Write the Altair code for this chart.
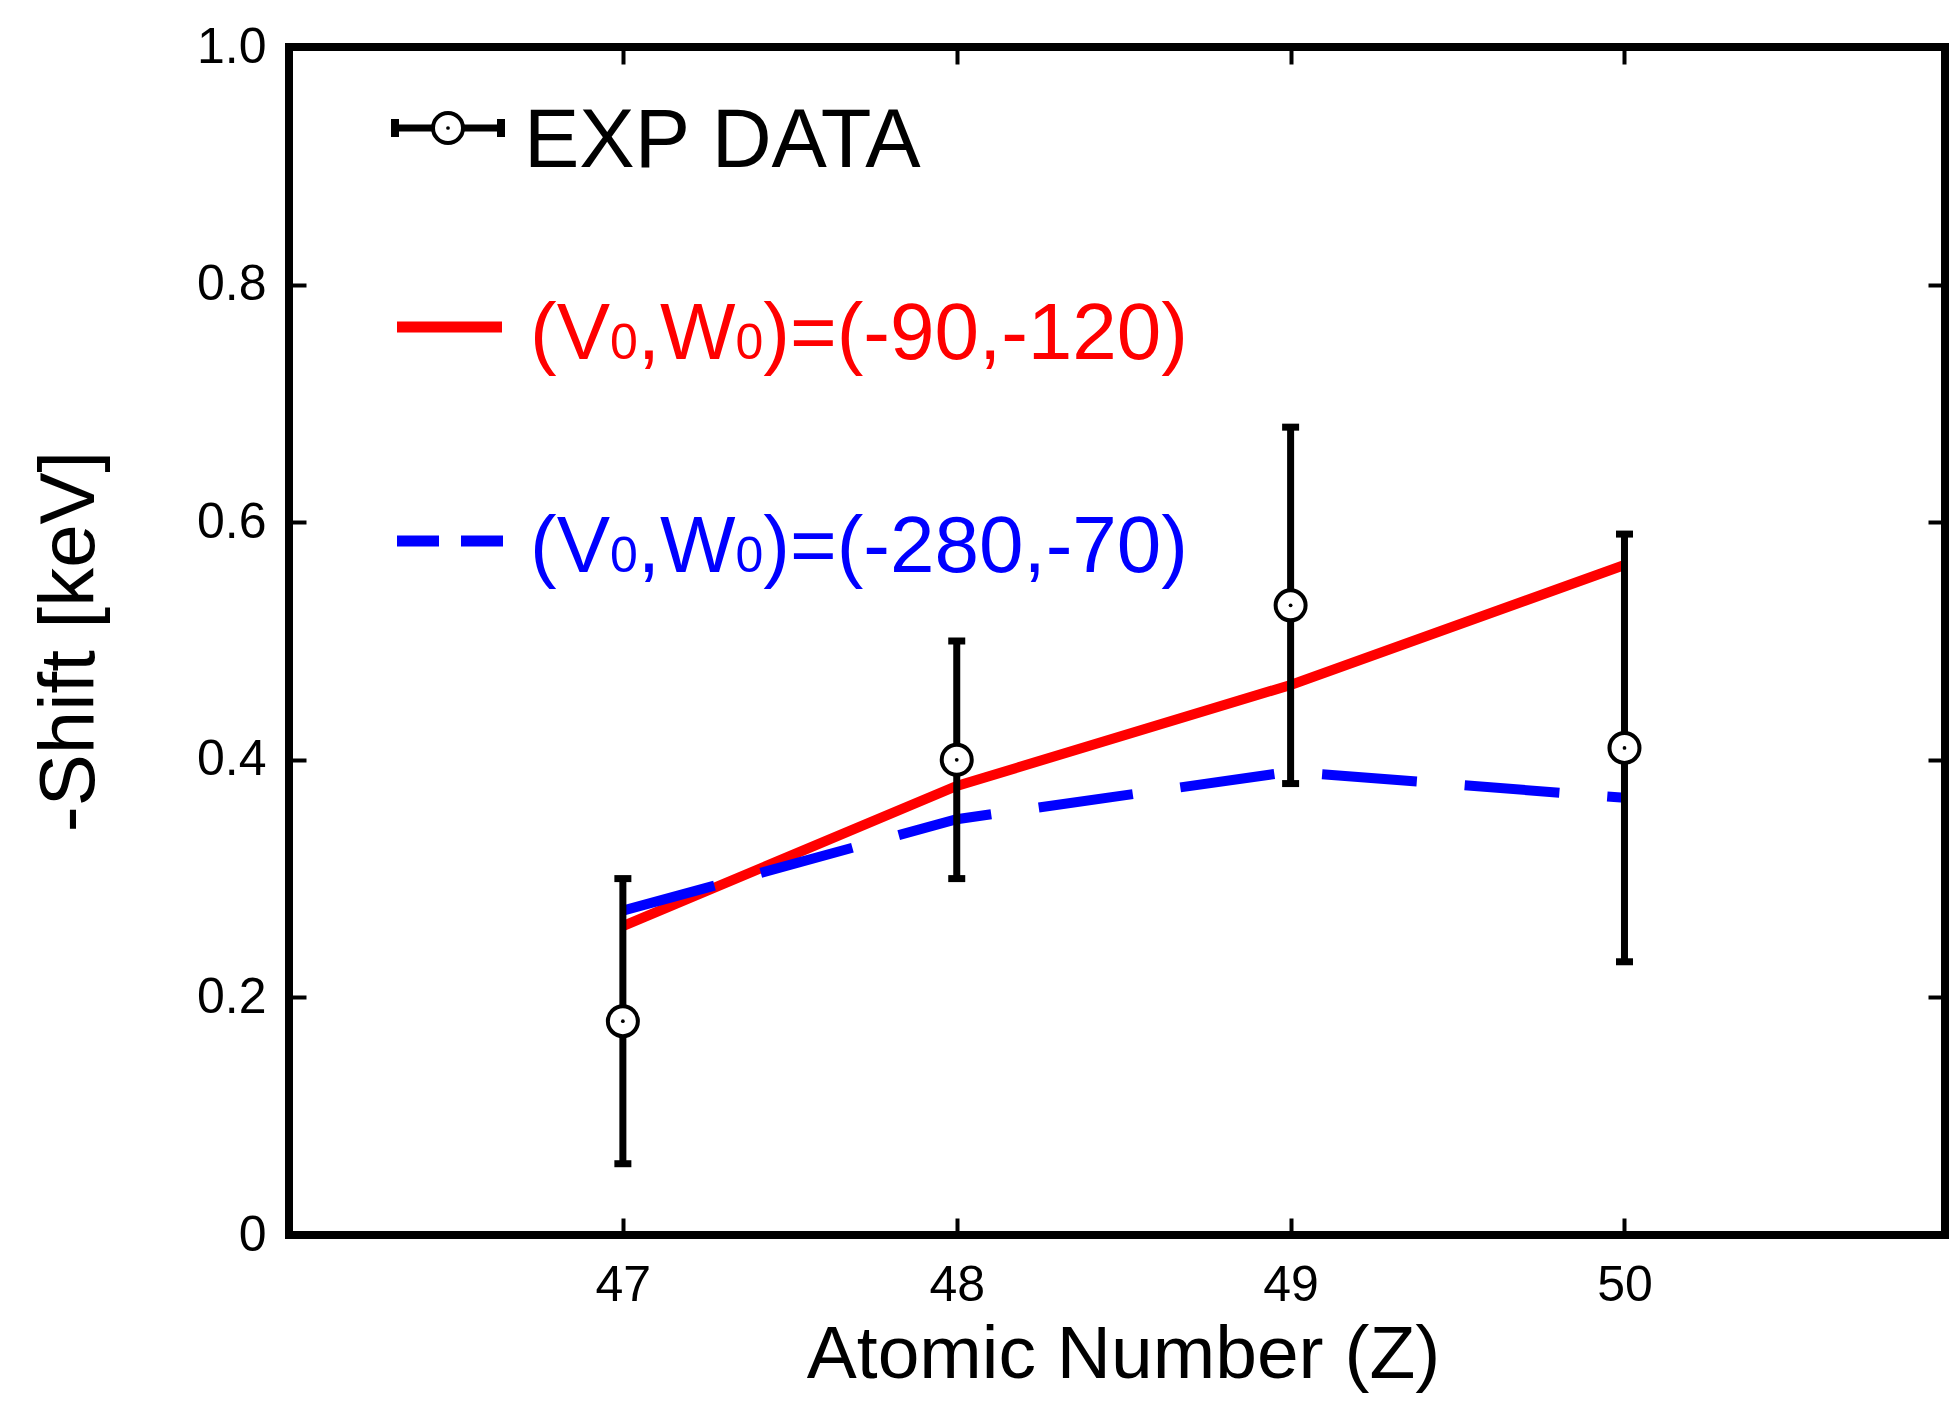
import altair as alt
import pandas as pd

# ---- data ----
Z = [47, 48, 49, 50]
exp_val = [0.18, 0.40, 0.53, 0.41]
exp_lo = [0.06, 0.30, 0.38, 0.23]
exp_hi = [0.30, 0.50, 0.68, 0.59]
red_val = [0.26, 0.378, 0.463, 0.564]
blue_val = [0.273, 0.35, 0.39, 0.368]
x_ticks = [47, 48, 49, 50]
y_ticks = [0, 0.2, 0.4, 0.6, 0.8, 1.0]
legend_exp = "EXP DATA"
red_label = ["(V", "0", ",W", "0", ")=(-90,-120)"]
blue_label = ["(V", "0", ",W", "0", ")=(-280,-70)"]

df = pd.DataFrame({"Z": Z, "exp": exp_val, "lo": exp_lo, "hi": exp_hi,
                   "red": red_val, "blue": blue_val})
one = pd.DataFrame({"a": [0]})

FONT = "Liberation Sans"
W, H = 1656, 1188
xs = alt.Scale(domain=[46, 50.96], nice=False, zero=False)
ys = alt.Scale(domain=[0, 1], nice=False, zero=False)

common = dict(domain=False, grid=False, ticks=True, tickSize=17, tickWidth=4,
              tickColor="black", offset=-17)

x_bottom = alt.Axis(values=x_ticks, orient="bottom", labelFont=FONT, labelFontSize=50,
                    labelColor="black", labelPadding=25, labelFlush=False,
                    title="Atomic Number (Z)", titleFont=FONT, titleFontSize=75,
                    titleFontWeight="normal", titleColor="black", titleX=834, titleY=159,
                    titleBaseline="alphabetic", titleAlign="center", **common)
y_left = alt.Axis(values=y_ticks, orient="left", labelFont=FONT, labelFontSize=50,
                  labelColor="black", labelPadding=23, labelFlush=False,
                  labelExpr="datum.value == 0 ? '0' : format(datum.value, '.1f')",
                  title="-Shift [keV]", titleFont=FONT, titleFontSize=78,
                  titleFontWeight="normal", titleColor="black", titleX=-213, titleY=594,
                  titleAngle=270, titleBaseline="alphabetic", titleAlign="center", **common)
x_top = alt.Axis(values=x_ticks, orient="top", labels=False, title=None, **common)
y_right = alt.Axis(values=y_ticks, orient="right", labels=False, title=None, **common)

red = alt.Chart(df).mark_line(color="#ff0000", strokeWidth=10).encode(
    x=alt.X("Z:Q", scale=xs, axis=x_bottom), y=alt.Y("red:Q", scale=ys, axis=y_left))
blue = alt.Chart(df).mark_line(color="#0000ff", strokeWidth=10, strokeDash=[95, 48],
                               strokeCap="butt").encode(
    x=alt.X("Z:Q", scale=xs, axis=x_top), y=alt.Y("blue:Q", scale=ys, axis=y_right))

ebar = alt.Chart(df).mark_rule(color="black", strokeWidth=7).encode(
    x=alt.X("Z:Q", scale=xs, axis=None), y=alt.Y("lo:Q", scale=ys, axis=None), y2="hi:Q")
cap_hi = alt.Chart(df).mark_tick(orient="horizontal", size=17, thickness=7, color="black",
                                 opacity=1).encode(
    x=alt.X("Z:Q", scale=xs, axis=None), y=alt.Y("hi:Q", scale=ys, axis=None))
cap_lo = alt.Chart(df).mark_tick(orient="horizontal", size=17, thickness=7, color="black",
                                 opacity=1).encode(
    x=alt.X("Z:Q", scale=xs, axis=None), y=alt.Y("lo:Q", scale=ys, axis=None))
pts = alt.Chart(df).mark_circle(fill="white", stroke="black", strokeWidth=4, size=900,
                                opacity=1).encode(
    x=alt.X("Z:Q", scale=xs, axis=None), y=alt.Y("exp:Q", scale=ys, axis=None))
dots = alt.Chart(df).mark_circle(color="black", size=14, opacity=1).encode(
    x=alt.X("Z:Q", scale=xs, axis=None), y=alt.Y("exp:Q", scale=ys, axis=None))

# ---- legend (annotation, pixel placed) ----
leg = []
leg.append(alt.Chart(one).mark_rule(color="black", strokeWidth=7).encode(
    x=alt.value(106), x2=alt.value(212), y=alt.value(81)))
for cx in (106, 212):
    leg.append(alt.Chart(one).mark_rule(color="black", strokeWidth=8).encode(
        x=alt.value(cx), y=alt.value(72), y2=alt.value(90)))
leg.append(alt.Chart(one).mark_circle(fill="white", stroke="black", strokeWidth=4, size=900,
                                      opacity=1).encode(x=alt.value(159), y=alt.value(81)))
leg.append(alt.Chart(one).mark_circle(color="black", size=14, opacity=1).encode(
    x=alt.value(159), y=alt.value(81)))
leg.append(alt.Chart(one).mark_text(text=legend_exp, font=FONT, fontSize=83, align="left",
                                    baseline="alphabetic", color="black").encode(
    x=alt.value(235), y=alt.value(120)))
leg.append(alt.Chart(one).mark_rule(color="#ff0000", strokeWidth=11).encode(
    x=alt.value(108), x2=alt.value(213), y=alt.value(280)))
leg.append(alt.Chart(one).mark_rule(color="#0000ff", strokeWidth=11, strokeDash=[42, 22],
                                    strokeCap="butt").encode(
    x=alt.value(108), x2=alt.value(214), y=alt.value(494)))

AW = {'(': 333, ')': 333, 'V': 667, 'W': 944, ',': 278, '=': 584, '-': 333}


def text_width(s, fs):
    return sum(AW.get(c, 556) for c in s) / 1000 * fs


def pieces(parts, color, x0, y0):
    out = []
    x = x0
    for i, p in enumerate(parts):
        fs = 80 if i % 2 == 0 else 50
        out.append(alt.Chart(one).mark_text(text=p, font=FONT, fontSize=fs, align="left",
                                            baseline="alphabetic", color=color).encode(
            x=alt.value(x), y=alt.value(y0)))
        x += text_width(p, fs)
    return out


leg += pieces(red_label, "#ff0000", 241, 312)
leg += pieces(blue_label, "#0000ff", 241, 525)

chart = alt.layer(red, blue, ebar, cap_hi, cap_lo, pts, dots, *leg).resolve_axis(
    x="independent", y="independent"
).properties(
    width=W, height=H,
    autosize=alt.AutoSizeParams(type="none"),
    padding={"left": 281, "top": 39, "right": 4, "bottom": 162},
    background="white",
).configure_view(stroke="black", strokeWidth=8)

chart.save("out.html", embed_options={"renderer": "svg", "actions": False})
